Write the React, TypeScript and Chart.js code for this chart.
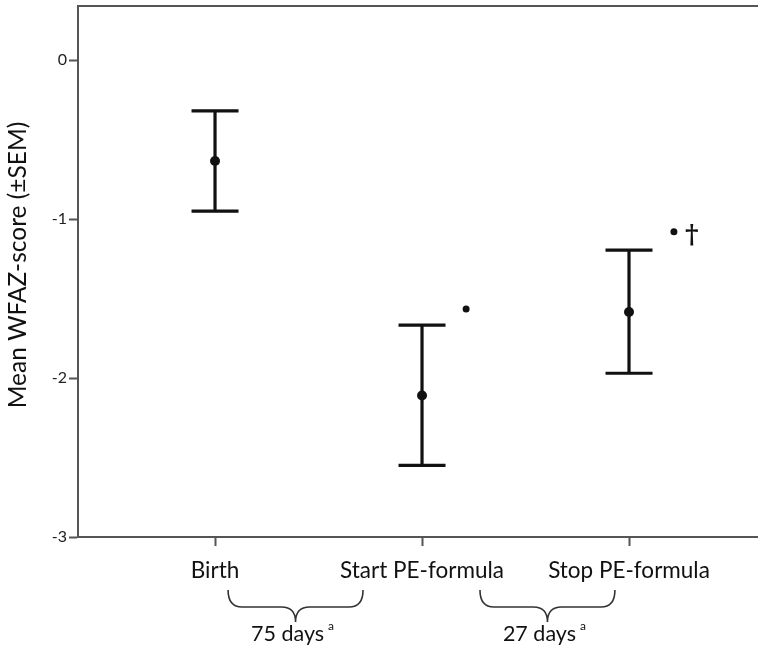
import React, { useEffect, useRef } from "react";
import { Chart, registerables } from "chart.js";

Chart.register(...registerables);

// ---- data ----
const categories = ["Birth", "Start PE-formula", "Stop PE-formula"];
const positions = [1, 2, 3];
const means = [-0.635, -2.11, -1.585];
const upperSEM = [-0.32, -1.667, -1.195];
const lowerSEM = [-0.95, -2.55, -1.97];

const markerX = [2.213, 3.217];
const markerY = [-1.566, -1.08];
const markerTags = ["", "†"];

const yTicks = [-3, -2, -1, 0];
const yTitle = "Mean WFAZ-score (±SEM)";

const braceStart = [1.063, 2.28];
const braceEnd = [1.715, 2.932];
const braceLabels = ["75 days", "27 days"];
const braceSup = ["a", "a"];

const FONT = "Lato, 'Open Sans', sans-serif";
const INK = "#111";
const CANVAS_W = 770;

const decorPlugin = {
  id: "decor",
  afterDatasetsDraw(chart: any) {
    const { ctx, chartArea, scales } = chart;
    const xs = scales.x;
    const ys = scales.y;
    ctx.save();
    // top frame line
    ctx.strokeStyle = "#555";
    ctx.lineWidth = 2;
    ctx.beginPath();
    ctx.moveTo(chartArea.left, chartArea.top);
    ctx.lineTo(chartArea.right, chartArea.top);
    ctx.stroke();

    // y axis title
    ctx.save();
    ctx.translate(18, 265);
    ctx.rotate(-Math.PI / 2);
    ctx.fillStyle = INK;
    ctx.font = `24.5px ${FONT}`;
    ctx.textAlign = "center";
    ctx.textBaseline = "middle";
    ctx.fillText(yTitle, 0, 0);
    ctx.restore();

    // error bars
    ctx.strokeStyle = INK;
    ctx.lineWidth = 3.2;
    ctx.lineCap = "butt";
    positions.forEach((p, i) => {
      const x = xs.getPixelForValue(p);
      const yt = ys.getPixelForValue(upperSEM[i]);
      const yb = ys.getPixelForValue(lowerSEM[i]);
      const hw = 23.5;
      ctx.beginPath();
      ctx.moveTo(x, yt);
      ctx.lineTo(x, yb);
      ctx.moveTo(x - hw, yt);
      ctx.lineTo(x + hw, yt);
      ctx.moveTo(x - hw, yb);
      ctx.lineTo(x + hw, yb);
      ctx.stroke();
    });

    // tags next to markers
    ctx.fillStyle = INK;
    ctx.font = `bold 26px 'DejaVu Serif', serif`;
    ctx.textBaseline = "middle";
    ctx.textAlign = "left";
    markerTags.forEach((t, i) => {
      if (!t) return;
      const x = xs.getPixelForValue(markerX[i]);
      const y = ys.getPixelForValue(markerY[i]);
      ctx.fillText(t, x + 11, y + 4);
    });

    // braces
    ctx.strokeStyle = "#333";
    ctx.lineWidth = 1.6;
    const yTop = 590;
    const yMid = 607;
    const yBot = 622;
    braceStart.forEach((s, i) => {
      const x0 = xs.getPixelForValue(s);
      const x1 = xs.getPixelForValue(braceEnd[i]);
      const cx = (x0 + x1) / 2;
      const r = 14;
      ctx.beginPath();
      ctx.moveTo(x0, yTop);
      ctx.quadraticCurveTo(x0, yMid, x0 + r, yMid);
      ctx.lineTo(cx - r, yMid);
      ctx.quadraticCurveTo(cx, yMid, cx, yBot);
      ctx.quadraticCurveTo(cx, yMid, cx + r, yMid);
      ctx.lineTo(x1 - r, yMid);
      ctx.quadraticCurveTo(x1, yMid, x1, yTop);
      ctx.stroke();

      ctx.fillStyle = INK;
      ctx.font = `21.5px ${FONT}`;
      ctx.textAlign = "center";
      ctx.textBaseline = "alphabetic";
      const label = braceLabels[i];
      const w = ctx.measureText(label).width;
      const tx = cx - 8;
      ctx.fillText(label, tx, 641);
      ctx.font = `12px ${FONT}`;
      ctx.textAlign = "left";
      ctx.fillText(braceSup[i], tx + w / 2 + 4, 630);
    });
    ctx.restore();
  },
};

export default function App() {
  const ref = useRef<HTMLCanvasElement | null>(null);
  useEffect(() => {
    if (!ref.current) return;
    const chart = new Chart(ref.current, {
      type: "scatter",
      data: {
        datasets: [
          {
            label: "Mean",
            data: positions.map((p, i) => ({ x: p, y: means[i] })),
            pointRadius: 5,
            pointBackgroundColor: INK,
            pointBorderColor: INK,
            pointBorderWidth: 0,
          },
          {
            label: "Significance",
            data: markerX.map((x, i) => ({ x, y: markerY[i] })),
            pointRadius: 3.5,
            pointBackgroundColor: INK,
            pointBorderColor: INK,
            pointBorderWidth: 0,
          },
        ],
      },
      options: {
        responsive: false,
        animation: false,
        layout: { padding: { left: 0, top: 6, right: 0, bottom: 0 } },
        plugins: {
          legend: { display: false },
          tooltip: { enabled: false },
        },
        scales: {
          x: {
            type: "linear",
            min: 0.338,
            max: 3.657,
            afterBuildTicks: (s: any) => {
              s.ticks = positions.map((v) => ({ value: v }));
            },
            afterFit: (s: any) => {
              s.height = 117;
              s.paddingLeft = 0;
              s.paddingRight = 0;
            },
            grid: {
              drawOnChartArea: false,
              drawTicks: true,
              tickLength: 9,
              tickWidth: 2,
              tickColor: "#555",
            },
            border: { display: true, color: "#555", width: 2 },
            ticks: {
              autoSkip: false,
              maxRotation: 0,
              padding: 11,
              color: INK,
              font: { family: FONT, size: 22.5 },
              callback: (v: any) => {
                const idx = positions.indexOf(Number(v));
                return idx >= 0 ? categories[idx] : "";
              },
            },
          },
          y: {
            type: "linear",
            min: -3,
            max: 0.34,
            afterBuildTicks: (s: any) => {
              s.ticks = yTicks.map((v) => ({ value: v }));
            },
            afterFit: (s: any) => {
              s.width = 78;
              s.paddingTop = 0;
              s.paddingBottom = 0;
            },
            grid: {
              drawOnChartArea: false,
              drawTicks: true,
              tickLength: 9,
              tickWidth: 2,
              tickColor: "#555",
            },
            border: { display: true, color: "#555", width: 2 },
            ticks: {
              padding: 2,
              color: "#222",
              font: { family: FONT, size: 16 },
              callback: (v: any) => String(v),
            },
          },
        },
      },
      plugins: [decorPlugin],
    });
    return () => chart.destroy();
  }, []);
  return (
    <div style={{ position: "fixed", left: 0, top: 0, width: 758, height: 654, background: "#fff", overflow: "hidden" }}>
      <canvas ref={ref} width={CANVAS_W} height={654} style={{ display: "block" }} />
    </div>
  );
}
